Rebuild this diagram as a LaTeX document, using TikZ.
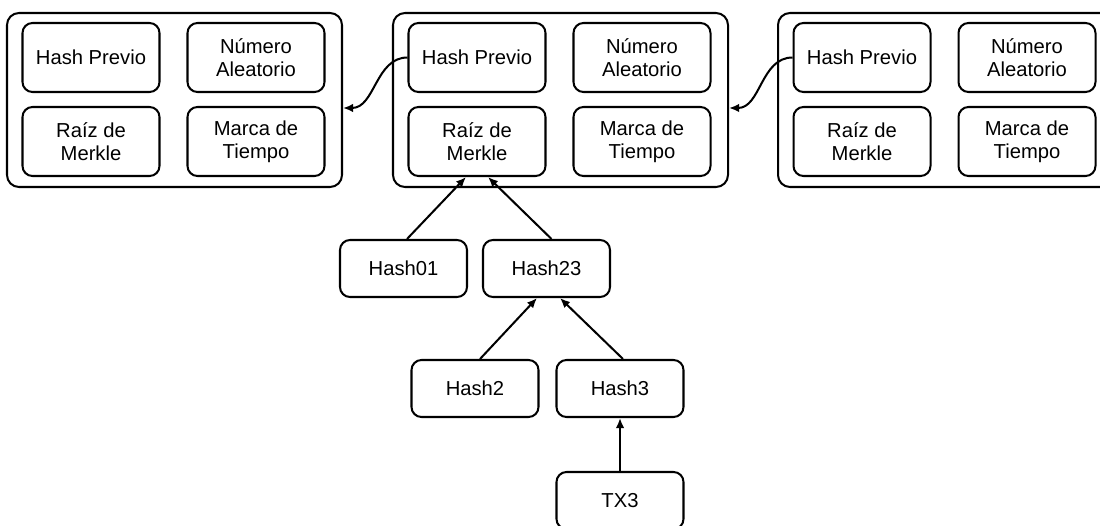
\documentclass[tikz,border=0pt]{standalone}
\usepackage{fontspec}
\setmainfont{Liberation Sans}
\usetikzlibrary{arrows.meta}
\begin{document}
\begin{tikzpicture}[>={Latex[length=2mm,width=1.7mm]}, line width=1.15pt, font=\fontsize{11.5}{13}\selectfont,
    blk/.style={draw, rounded corners=0.24cm, minimum width=6.7cm, minimum height=3.48cm},
    fld/.style={draw, rounded corners=0.2cm, minimum width=2.74cm, minimum height=1.38cm, align=center, inner sep=0pt},
    hsh/.style={draw, rounded corners=0.2cm, minimum width=2.54cm, minimum height=1.14cm, inner sep=0pt}]
    \useasboundingbox (0,0) rectangle (22,10.5);

    % Block 1 (left)
    \node[blk] (blk1) at (3.49,8.5) {};
    \node[fld] (prev1) at (1.82,9.35) {Hash Previo};
    \node[fld] (rand1) at (5.12,9.35) {Número\\Aleatorio};
    \node[fld] (root1) at (1.82,7.67) {Raíz de\\Merkle};
    \node[fld] (time1) at (5.12,7.67) {Marca de\\Tiempo};

    % Block 2 (middle)
    \node[blk] (blk2) at (11.21,8.5) {};
    \node[fld] (prev2) at (9.54,9.35) {Hash Previo};
    \node[fld] (rand2) at (12.84,9.35) {Número\\Aleatorio};
    \node[fld] (root2) at (9.54,7.67) {Raíz de\\Merkle};
    \node[fld] (time2) at (12.84,7.67) {Marca de\\Tiempo};

    % Block 3 (right, cut by the page edge)
    \node[blk] (blk3) at (18.91,8.5) {};
    \node[fld] (prev3) at (17.24,9.35) {Hash Previo};
    \node[fld] (rand3) at (20.54,9.35) {Número\\Aleatorio};
    \node[fld] (root3) at (17.24,7.67) {Raíz de\\Merkle};
    \node[fld] (time3) at (20.54,7.67) {Marca de\\Tiempo};

    % Links to the previous block
    \draw[->] (prev2.west) to[out=180, in=0] ([yshift=-0.16cm]blk1.east);
    \draw[->] (prev3.west) to[out=180, in=0] ([yshift=-0.16cm]blk2.east);

    % Merkle tree
    \node[hsh] (h01) at (8.07,5.13) {Hash01};
    \node[hsh] (h23) at (10.93,5.13) {Hash23};
    \node[hsh] (h2) at (9.5,2.73) {Hash2};
    \node[hsh] (h3) at (12.4,2.73) {Hash3};
    \node[hsh] (tx3) at (12.4,0.49) {TX3};

    \draw[->] ([xshift=0.07cm]h01.north) -- ([xshift=-0.22cm]root2.south);
    \draw[->] ([xshift=0.1cm]h23.north) -- ([xshift=0.22cm]root2.south);
    \draw[->] ([xshift=0.1cm]h2.north) -- ([xshift=-0.19cm]h23.south);
    \draw[->] ([xshift=0.06cm]h3.north) -- ([xshift=0.27cm]h23.south);
    \draw[->] (tx3.north) -- (h3.south);
\end{tikzpicture}
\end{document}
